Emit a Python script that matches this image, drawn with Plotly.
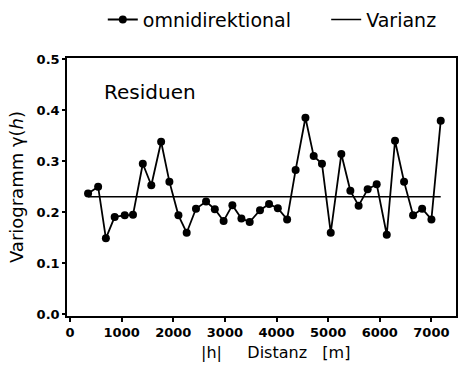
import plotly.graph_objects as go

# Lag distances [m] and experimental variogram values (omnidirectional)
distanz = [350, 545, 695, 865, 1060, 1220, 1410, 1575, 1765, 1925,
           2100, 2260, 2440, 2635, 2805, 2975, 3145, 3320, 3480, 3680,
           3855, 4025, 4205, 4370, 4560, 4720, 4880, 5050, 5255, 5430,
           5590, 5765, 5940, 6135, 6295, 6470, 6645, 6820, 7000, 7180]
gamma = [0.237, 0.250, 0.149, 0.191, 0.194, 0.195, 0.295, 0.253, 0.338, 0.260,
         0.194, 0.160, 0.207, 0.221, 0.206, 0.183, 0.214, 0.188, 0.181, 0.204,
         0.216, 0.208, 0.186, 0.283, 0.385, 0.310, 0.295, 0.160, 0.314, 0.242,
         0.213, 0.245, 0.255, 0.156, 0.340, 0.260, 0.194, 0.207, 0.186, 0.379]
varianz = 0.2305

x_ticks = [0, 1000, 2000, 3000, 4000, 5000, 6000, 7000]
y_ticks = [0.0, 0.1, 0.2, 0.3, 0.4, 0.5]

FONT = "DejaVu Sans"
NB = "\u00a0"

fig = go.Figure()
fig.add_trace(go.Scatter(
    x=distanz, y=gamma, mode="lines+markers", name="omnidirektional" + NB * 5,
    line=dict(color="black", width=1.8),
    marker=dict(color="black", size=8, symbol="circle"),
))
fig.add_trace(go.Scatter(
    x=[distanz[0], distanz[-1]], y=[varianz, varianz], mode="lines",
    name="Varianz", line=dict(color="black", width=1.6),
))

fig.add_annotation(
    text="Residuen", xref="paper", yref="paper", x=0.09, y=0.87,
    xanchor="left", yanchor="middle", showarrow=False,
    font=dict(family=FONT, size=20, color="#000000"),
)
fig.add_annotation(
    text="|h|" + NB * 5 + "Distanz" + NB * 3 + "[m]",
    xref="paper", yref="paper", x=0.535, y=-0.143,
    xanchor="center", yanchor="middle", showarrow=False,
    font=dict(family=FONT, size=16, color="#000000"),
)

fig.update_layout(
    width=459, height=371,
    margin=dict(l=67, r=1, t=52, b=55),
    paper_bgcolor="white", plot_bgcolor="white",
    font=dict(family=FONT, color="#000000"),
    showlegend=True,
    legend=dict(orientation="h", x=0.092, y=1.075, xanchor="left", yanchor="bottom",
                font=dict(family=FONT, size=19, color="#000000"),
                bgcolor="rgba(0,0,0,0)"),
    xaxis=dict(
        range=[-58, 7476], tickmode="array", tickvals=x_ticks,
        ticktext=[str(v) for v in x_ticks],
        showgrid=False, zeroline=False, showline=True, mirror=True,
        linecolor="black", linewidth=1.5,
        ticks="outside", ticklen=4, tickcolor="black", tickwidth=1.5,
        tickfont=dict(family=FONT, size=13, color="#000000", weight="bold"),
    ),
    yaxis=dict(
        range=[-0.003, 0.502], tickmode="array", tickvals=y_ticks,
        ticktext=[f"{v:.1f}" for v in y_ticks],
        showgrid=False, zeroline=False, showline=True, mirror=True,
        linecolor="black", linewidth=1.5,
        ticks="outside", ticklen=3, tickcolor="black", tickwidth=1.5,
        tickfont=dict(family=FONT, size=13, color="#000000", weight="bold"),
        title=dict(text="Variogramm \u03b3(<i>h</i>)",
                   font=dict(family=FONT, size=18, color="#000000"), standoff=8),
    ),
)

fig.write_html("out.html", config={"displayModeBar": False},
               post_script="document.body.style.margin='0';")
